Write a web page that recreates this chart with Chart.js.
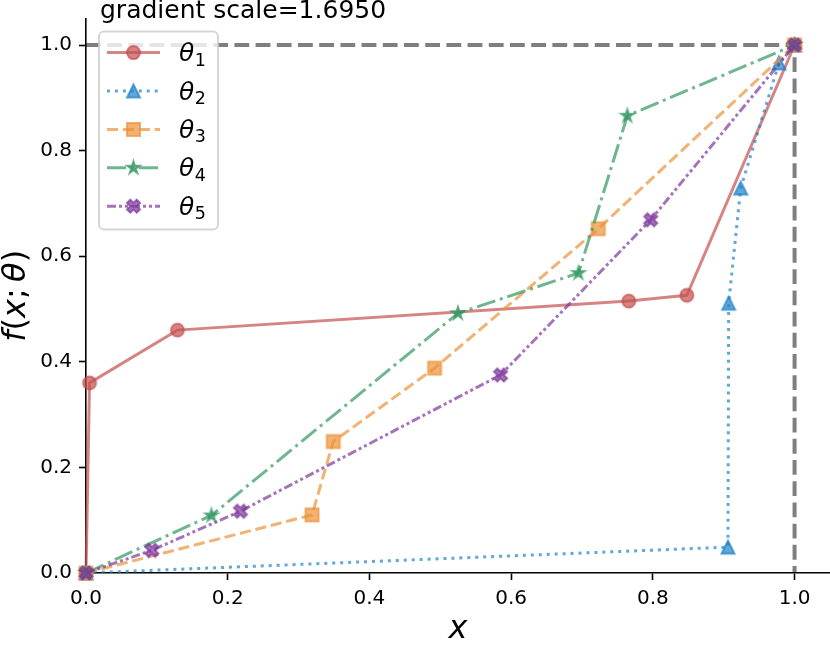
<!DOCTYPE html>
<html><head><meta charset="utf-8">
<script src="https://cdn.jsdelivr.net/npm/chart.js@4.4.0/dist/chart.umd.min.js"></script>
<style>html,body{margin:0;padding:0;background:#fff}#wrap{width:830px;height:646px;position:relative}</style>
</head><body><div id="wrap"><canvas id="c"></canvas></div>
<script>
// ---- data ----
const seriesNames = ['1', '2', '3', '4', '5'];   // subscripts of θ
const theta1X = [0, 0.005, 0.129, 0.766, 0.848, 1.0];
const theta1Y = [0, 0.360, 0.460, 0.515, 0.526, 1.0];
const theta2X = [0, 0.906, 0.907, 0.924, 0.978, 1.0];
const theta2Y = [0, 0.049, 0.511, 0.729, 0.966, 1.0];
const theta3X = [0, 0.319, 0.349, 0.492, 0.723, 1.0];
const theta3Y = [0, 0.110, 0.249, 0.388, 0.652, 1.0];
const theta4X = [0, 0.177, 0.525, 0.695, 0.764, 1.0];
const theta4Y = [0, 0.109, 0.492, 0.568, 0.866, 1.0];
const theta5X = [0, 0.093, 0.218, 0.585, 0.797, 1.0];
const theta5Y = [0, 0.043, 0.117, 0.375, 0.669, 1.0];
const refX = [0, 1, 1];
const refY = [1, 1, 0];
const xTicks = [0.0, 0.2, 0.4, 0.6, 0.8, 1.0];
const yTicks = [0.0, 0.2, 0.4, 0.6, 0.8, 1.0];
const titleText = 'gradient scale=1.6950';

// ---- styles ----
const FONT = "'DejaVu Sans', sans-serif";
const colors = ['196,80,78', '30,130,200', '235,145,55', '50,150,95', '125,55,155'];
const shapes = ['circle', 'triangle', 'square', 'star', 'xfilled'];
const dashes = [[], [3, 4.95], [11.1, 4.8], [19.2, 4.8, 3, 4.8], [9, 3, 3, 3, 3, 3]];
const MR = 6.5;

function shapePath(g, shape, r) {
  g.beginPath();
  if (shape === 'circle') {
    g.arc(0, 0, r, 0, Math.PI * 2);
  } else if (shape === 'triangle') {
    g.moveTo(0, -r); g.lineTo(-r, r); g.lineTo(r, r); g.closePath();
  } else if (shape === 'square') {
    g.rect(-r, -r, 2 * r, 2 * r);
  } else if (shape === 'star') {
    const inner = r * 0.381966;
    for (let i = 0; i < 10; i++) {
      const rr = i % 2 === 0 ? r : inner;
      const a = -Math.PI / 2 + i * Math.PI / 5;
      const px = rr * Math.cos(a), py = rr * Math.sin(a);
      if (i === 0) g.moveTo(px, py); else g.lineTo(px, py);
    }
    g.closePath();
  } else if (shape === 'xfilled') {
    const k = r * Math.SQRT2 / 4;
    const pts = [[-1,-3],[1,-3],[1,-1],[3,-1],[3,1],[1,1],[1,3],[-1,3],[-1,1],[-3,1],[-3,-1],[-1,-1]];
    const c = Math.SQRT1_2;
    pts.forEach((p, i) => {
      const x = (p[0] * c - p[1] * c) * k, y = (p[0] * c + p[1] * c) * k;
      if (i === 0) g.moveTo(x, y); else g.lineTo(x, y);
    });
    g.closePath();
  }
}
function drawMarker(g, shape, rgb) {
  const col = `rgba(${rgb},0.7)`;
  shapePath(g, shape, MR);
  g.fillStyle = col; g.fill();
  g.lineWidth = 2; g.strokeStyle = col; g.lineJoin = 'miter'; g.stroke();
}
function markerCanvas(shape, rgb) {
  const S = 24;
  const c = document.createElement('canvas'); c.width = S; c.height = S;
  const g = c.getContext('2d'); g.translate(S / 2, S / 2);
  drawMarker(g, shape, rgb);
  return c;
}
const markers = shapes.map((s, i) => markerCanvas(s, colors[i]));

function pts(xs, ys) { return xs.map((x, i) => ({ x: x, y: ys[i] })); }
const seriesX = [theta1X, theta2X, theta3X, theta4X, theta5X];
const seriesY = [theta1Y, theta2Y, theta3Y, theta4Y, theta5Y];

const datasets = [{
  data: pts(refX, refY), borderColor: 'rgba(0,0,0,0.5)', borderWidth: 4, borderDash: [14.8, 6.4],
  pointRadius: 0, fill: false, order: 10, clip: false, tension: 0
}];
seriesX.forEach((xs, i) => {
  datasets.push({
    data: pts(xs, seriesY[i]),
    borderColor: `rgba(${colors[i]},0.7)`, borderWidth: 3, borderDash: dashes[i], borderCapStyle: 'butt',
    pointStyle: markers[i], pointRadius: 7, pointHoverRadius: 7,
    fill: false, order: 5 - i, clip: false, tension: 0
  });
});

const textPlugin = {
  id: 'texts',
  afterDraw(chart) {
    const ctx = chart.ctx, a = chart.chartArea;
    ctx.save();
    ctx.fillStyle = '#000';
    // title
    ctx.font = `25px ${FONT}`; ctx.textAlign = 'left'; ctx.textBaseline = 'alphabetic';
    ctx.fillText(titleText, a.left + 14, 18);
    // x label
    ctx.font = `italic 32px ${FONT}`; ctx.textAlign = 'center';
    ctx.fillText('x', (a.left + a.right) / 2, 638);
    // y label
    const parts = [['f', true], ['(', false], ['x', true], [';', false], ['\u2009', false], ['θ', true], [')', false]];
    let total = 0;
    parts.forEach(p => { ctx.font = `${p[1] ? 'italic ' : ''}32px ${FONT}`; p.push(ctx.measureText(p[0]).width); total += p[2]; });
    ctx.translate(25, (a.top + a.bottom) / 2);
    ctx.rotate(-Math.PI / 2);
    ctx.textAlign = 'left';
    let xx = -total / 2;
    parts.forEach(p => { ctx.font = `${p[1] ? 'italic ' : ''}32px ${FONT}`; ctx.fillText(p[0], xx, 0); xx += p[2]; });
    ctx.restore();

    // legend
    ctx.save();
    const bx = a.left + 13, by = a.top + 13, bw = 119, bh = 198, rad = 5;
    ctx.beginPath();
    ctx.moveTo(bx + rad, by); ctx.lineTo(bx + bw - rad, by); ctx.arcTo(bx + bw, by, bx + bw, by + rad, rad);
    ctx.lineTo(bx + bw, by + bh - rad); ctx.arcTo(bx + bw, by + bh, bx + bw - rad, by + bh, rad);
    ctx.lineTo(bx + rad, by + bh); ctx.arcTo(bx, by + bh, bx, by + bh - rad, rad);
    ctx.lineTo(bx, by + rad); ctx.arcTo(bx, by, bx + rad, by, rad); ctx.closePath();
    ctx.fillStyle = 'rgba(255,255,255,0.8)'; ctx.fill();
    ctx.lineWidth = 2; ctx.strokeStyle = 'rgba(204,204,204,0.8)'; ctx.stroke();
    seriesNames.forEach((n, i) => {
      const cy = by + 21 + i * 38.4;
      ctx.save();
      ctx.beginPath(); ctx.moveTo(bx + 8, cy); ctx.lineTo(bx + 61, cy);
      ctx.setLineDash(dashes[i]); ctx.lineWidth = 3; ctx.lineCap = 'butt';
      ctx.strokeStyle = `rgba(${colors[i]},0.7)`; ctx.stroke();
      ctx.setLineDash([]);
      ctx.translate(bx + 34.5, cy);
      drawMarker(ctx, shapes[i], colors[i]);
      ctx.restore();
      ctx.fillStyle = '#000'; ctx.textAlign = 'left'; ctx.textBaseline = 'alphabetic';
      ctx.font = `italic 25px ${FONT}`;
      const tx = bx + 80;
      ctx.fillText('θ', tx, cy + 8.5);
      const w = ctx.measureText('θ').width;
      ctx.font = `17.5px ${FONT}`;
      ctx.fillText(n, tx + w + 0.5, cy + 13);
    });
    ctx.restore();
  }
};

new Chart(document.getElementById('c'), {
  type: 'line',
  data: { datasets: datasets },
  options: {
    responsive: true, maintainAspectRatio: false, animation: false, events: [],
    layout: { autoPadding: false, padding: { top: 18.6, left: 0, right: 0, bottom: 0 } },
    plugins: { legend: { display: false }, tooltip: { enabled: false }, title: { display: false } },
    scales: {
      x: {
        type: 'linear', min: 0, max: 1.05,
        afterBuildTicks: s => { s.ticks = xTicks.map(v => ({ value: v })); },
        afterFit: s => { s.height = 73; s.paddingLeft = 0; s.paddingRight = 0; },
        ticks: { font: { family: FONT, size: 20 }, color: '#000', padding: 7, maxRotation: 0, autoSkip: false,
                 callback: v => Number(v).toFixed(1) },
        grid: { display: true, drawOnChartArea: false, drawTicks: true, tickLength: 7, tickColor: '#000', tickWidth: 1.6 },
        border: { display: true, color: '#000', width: 1.6 }
      },
      y: {
        type: 'linear', min: 0, max: 1.05,
        afterBuildTicks: s => { s.ticks = yTicks.map(v => ({ value: v })); },
        afterFit: s => { s.width = 86; s.paddingTop = 0; s.paddingBottom = 0; },
        ticks: { font: { family: FONT, size: 20 }, color: '#000', padding: 7, autoSkip: false,
                 callback: v => Number(v).toFixed(1) },
        grid: { display: true, drawOnChartArea: false, drawTicks: true, tickLength: 7, tickColor: '#000', tickWidth: 1.6 },
        border: { display: true, color: '#000', width: 1.6 }
      }
    }
  },
  plugins: [textPlugin]
});
</script></body></html>
